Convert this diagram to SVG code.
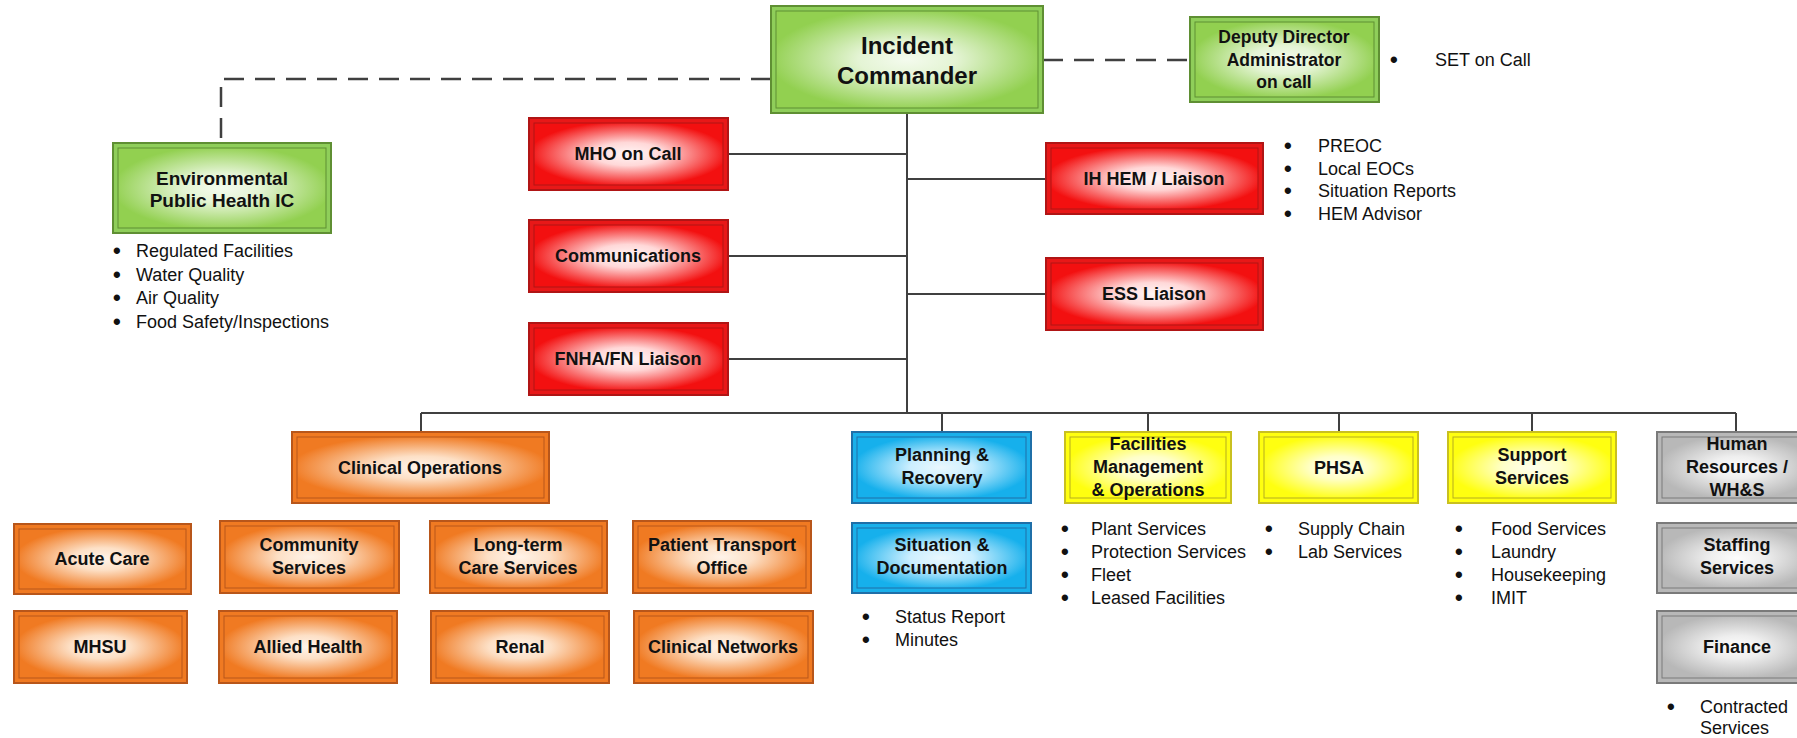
<svg xmlns="http://www.w3.org/2000/svg" width="1797" height="738" viewBox="0 0 1797 738">
<defs>
<radialGradient id="gGreen" cx="0.5" cy="0.5" r="0.62"><stop offset="0" stop-color="#f4fbee"/><stop offset="0.3" stop-color="#e4f4d4"/><stop offset="0.85" stop-color="#92d050"/></radialGradient>
<radialGradient id="gRed" cx="0.5" cy="0.5" r="0.62"><stop offset="0" stop-color="#fff6f6"/><stop offset="0.3" stop-color="#ffd8d8"/><stop offset="0.85" stop-color="#f31010"/></radialGradient>
<radialGradient id="gOrange" cx="0.5" cy="0.5" r="0.62"><stop offset="0" stop-color="#fff4ea"/><stop offset="0.3" stop-color="#fde0c6"/><stop offset="0.85" stop-color="#f07a22"/></radialGradient>
<radialGradient id="gBlue" cx="0.5" cy="0.5" r="0.62"><stop offset="0" stop-color="#eaf8fe"/><stop offset="0.3" stop-color="#ccefff"/><stop offset="0.85" stop-color="#16b0ec"/></radialGradient>
<radialGradient id="gYellow" cx="0.5" cy="0.5" r="0.62"><stop offset="0" stop-color="#ffffee"/><stop offset="0.3" stop-color="#ffffc8"/><stop offset="0.85" stop-color="#ffff10"/></radialGradient>
<radialGradient id="gGray" cx="0.5" cy="0.5" r="0.62"><stop offset="0" stop-color="#fdfdfd"/><stop offset="0.3" stop-color="#eeeeee"/><stop offset="0.85" stop-color="#b8b8b8"/></radialGradient>
</defs>
<style>
.conn{stroke:#404040;stroke-width:2;fill:none}
.dash{stroke:#404040;stroke-width:2.5;fill:none;stroke-dasharray:20 11}
.t{font-family:"Liberation Sans",Arial,sans-serif;font-weight:bold;font-size:18px;fill:#111;text-anchor:middle}
.b{font-family:"Liberation Sans",Arial,sans-serif;font-size:18px;fill:#111}
.d{font-family:"Liberation Sans",Arial,sans-serif;font-size:22px;font-weight:bold;fill:#111}
.go{fill:#8fce5a;stroke:#5f8f33;stroke-width:2}
.gi{fill:url(#gGreen);stroke:#5f8f33;stroke-width:1}
.ro{fill:#e81818;stroke:#b01515;stroke-width:2}
.ri{fill:url(#gRed);stroke:#b01515;stroke-width:1}
.oo{fill:#f07a22;stroke:#b8561a;stroke-width:2}
.oi{fill:url(#gOrange);stroke:#b8561a;stroke-width:1}
.bo{fill:#1ab0ea;stroke:#1f6fa8;stroke-width:2}
.bi{fill:url(#gBlue);stroke:#1f6fa8;stroke-width:1}
.yo{fill:#ffff10;stroke:#c9c020;stroke-width:2}
.yi{fill:url(#gYellow);stroke:#b5ad20;stroke-width:1}
.xo{fill:#b8b8b8;stroke:#7a7a7a;stroke-width:2}
.xi{fill:url(#gGray);stroke:#7a7a7a;stroke-width:1}
</style>
<rect width="1797" height="738" fill="#ffffff"/>
<g id="connectors">
<path class="dash" d="M771 79 H221 V143"/>
<path class="dash" d="M1043 60 H1190"/>
<path class="conn" d="M907 113 V413"/>
<path class="conn" d="M728 154 H907 M728 256 H907 M728 359 H907"/>
<path class="conn" d="M907 179 H1046 M907 294 H1046"/>
<path class="conn" d="M421 413 H1736"/>
<path class="conn" d="M421 413 V432 M942 413 V432 M1148 413 V432 M1339 413 V432 M1532 413 V432 M1736 413 V432"/>
</g>
<g id="incident-commander">
<rect class="go" x="771" y="6" width="272" height="107"/><rect class="gi" x="776" y="11" width="262" height="97"/>
<text class="t" style="font-size:24px" x="907" y="54">Incident</text>
<text class="t" style="font-size:24px" x="907" y="84">Commander</text>
</g>
<g id="deputy-director">
<rect class="go" x="1190" y="17" width="189" height="85"/><rect class="gi" x="1195" y="22" width="179" height="75"/>
<text class="t" style="font-size:17.5px" x="1284" y="43">Deputy Director</text>
<text class="t" style="font-size:17.5px" x="1284" y="66">Administrator</text>
<text class="t" style="font-size:17.5px" x="1284" y="88">on call</text>
</g>
<g id="deputy-notes">
<text class="d" x="1390" y="67">•</text><text class="b" x="1435" y="66">SET on Call</text>
</g>
<g id="environmental-public-health">
<rect class="go" x="113" y="143" width="218" height="90"/><rect class="gi" x="118" y="148" width="208" height="80"/>
<text class="t" style="font-size:19px" x="222" y="185">Environmental</text>
<text class="t" style="font-size:19px" x="222" y="207">Public Health IC</text>
</g>
<g id="env-notes">
<text class="d" x="113" y="258">•</text><text class="b" x="136" y="257">Regulated Facilities</text>
<text class="d" x="113" y="282">•</text><text class="b" x="136" y="281">Water Quality</text>
<text class="d" x="113" y="305">•</text><text class="b" x="136" y="304">Air Quality</text>
<text class="d" x="113" y="329">•</text><text class="b" x="136" y="328">Food Safety/Inspections</text>
</g>
<g id="mho-on-call">
<rect class="ro" x="529" y="118" width="199" height="72"/><rect class="ri" x="534" y="123" width="189" height="62"/>
<text class="t" x="628" y="160">MHO on Call</text>
</g>
<g id="communications">
<rect class="ro" x="529" y="220" width="199" height="72"/><rect class="ri" x="534" y="225" width="189" height="62"/>
<text class="t" x="628" y="262">Communications</text>
</g>
<g id="fnha-liaison">
<rect class="ro" x="529" y="323" width="199" height="72"/><rect class="ri" x="534" y="328" width="189" height="62"/>
<text class="t" x="628" y="365">FNHA/FN Liaison</text>
</g>
<g id="ih-hem-liaison">
<rect class="ro" x="1046" y="143" width="217" height="71"/><rect class="ri" x="1051" y="148" width="207" height="61"/>
<text class="t" x="1154" y="185">IH HEM / Liaison</text>
</g>
<g id="ih-hem-notes">
<text class="d" x="1284" y="153">•</text><text class="b" x="1318" y="152">PREOC</text>
<text class="d" x="1284" y="176">•</text><text class="b" x="1318" y="175">Local EOCs</text>
<text class="d" x="1284" y="198">•</text><text class="b" x="1318" y="197">Situation Reports</text>
<text class="d" x="1284" y="221">•</text><text class="b" x="1318" y="220">HEM Advisor</text>
</g>
<g id="ess-liaison">
<rect class="ro" x="1046" y="258" width="217" height="72"/><rect class="ri" x="1051" y="263" width="207" height="62"/>
<text class="t" x="1154" y="300">ESS Liaison</text>
</g>
<g id="clinical-operations">
<rect class="oo" x="292" y="432" width="257" height="71"/><rect class="oi" x="297" y="437" width="247" height="61"/>
<text class="t" x="420" y="474">Clinical Operations</text>
</g>
<g id="acute-care">
<rect class="oo" x="14" y="524" width="177" height="70"/><rect class="oi" x="19" y="529" width="167" height="60"/>
<text class="t" x="102" y="565">Acute Care</text>
</g>
<g id="community-services">
<rect class="oo" x="220" y="521" width="179" height="72"/><rect class="oi" x="225" y="526" width="169" height="62"/>
<text class="t" x="309" y="551">Community</text>
<text class="t" x="309" y="574">Services</text>
</g>
<g id="long-term-care">
<rect class="oo" x="430" y="521" width="177" height="72"/><rect class="oi" x="435" y="526" width="167" height="62"/>
<text class="t" x="518" y="551">Long-term</text>
<text class="t" x="518" y="574">Care Services</text>
</g>
<g id="patient-transport">
<rect class="oo" x="633" y="521" width="178" height="72"/><rect class="oi" x="638" y="526" width="168" height="62"/>
<text class="t" x="722" y="551">Patient Transport</text>
<text class="t" x="722" y="574">Office</text>
</g>
<g id="mhsu">
<rect class="oo" x="14" y="611" width="173" height="72"/><rect class="oi" x="19" y="616" width="163" height="62"/>
<text class="t" x="100" y="653">MHSU</text>
</g>
<g id="allied-health">
<rect class="oo" x="219" y="611" width="178" height="72"/><rect class="oi" x="224" y="616" width="168" height="62"/>
<text class="t" x="308" y="653">Allied Health</text>
</g>
<g id="renal">
<rect class="oo" x="431" y="611" width="178" height="72"/><rect class="oi" x="436" y="616" width="168" height="62"/>
<text class="t" x="520" y="653">Renal</text>
</g>
<g id="clinical-networks">
<rect class="oo" x="634" y="611" width="179" height="72"/><rect class="oi" x="639" y="616" width="169" height="62"/>
<text class="t" x="723" y="653">Clinical Networks</text>
</g>
<g id="planning-recovery">
<rect class="bo" x="852" y="432" width="179" height="71"/><rect class="bi" x="857" y="437" width="169" height="61"/>
<text class="t" x="942" y="461">Planning &amp;</text>
<text class="t" x="942" y="484">Recovery</text>
</g>
<g id="situation-documentation">
<rect class="bo" x="852" y="523" width="179" height="70"/><rect class="bi" x="857" y="528" width="169" height="60"/>
<text class="t" x="942" y="551">Situation &amp;</text>
<text class="t" x="942" y="574">Documentation</text>
</g>
<g id="situation-notes">
<text class="d" x="862" y="624">•</text><text class="b" x="895" y="623">Status Report</text>
<text class="d" x="862" y="647">•</text><text class="b" x="895" y="646">Minutes</text>
</g>
<g id="facilities-management">
<rect class="yo" x="1065" y="432" width="166" height="71"/><rect class="yi" x="1070" y="437" width="156" height="61"/>
<text class="t" x="1148" y="450">Facilities</text>
<text class="t" x="1148" y="473">Management</text>
<text class="t" x="1148" y="496">&amp; Operations</text>
</g>
<g id="facilities-notes">
<text class="d" x="1061" y="536">•</text><text class="b" x="1091" y="535">Plant Services</text>
<text class="d" x="1061" y="559">•</text><text class="b" x="1091" y="558">Protection Services</text>
<text class="d" x="1061" y="582">•</text><text class="b" x="1091" y="581">Fleet</text>
<text class="d" x="1061" y="605">•</text><text class="b" x="1091" y="604">Leased Facilities</text>
</g>
<g id="phsa">
<rect class="yo" x="1259" y="432" width="159" height="71"/><rect class="yi" x="1264" y="437" width="149" height="61"/>
<text class="t" x="1339" y="474">PHSA</text>
</g>
<g id="phsa-notes">
<text class="d" x="1265" y="536">•</text><text class="b" x="1298" y="535">Supply Chain</text>
<text class="d" x="1265" y="559">•</text><text class="b" x="1298" y="558">Lab Services</text>
</g>
<g id="support-services">
<rect class="yo" x="1448" y="432" width="168" height="71"/><rect class="yi" x="1453" y="437" width="158" height="61"/>
<text class="t" x="1532" y="461">Support</text>
<text class="t" x="1532" y="484">Services</text>
</g>
<g id="support-notes">
<text class="d" x="1455" y="536">•</text><text class="b" x="1491" y="535">Food Services</text>
<text class="d" x="1455" y="559">•</text><text class="b" x="1491" y="558">Laundry</text>
<text class="d" x="1455" y="582">•</text><text class="b" x="1491" y="581">Housekeeping</text>
<text class="d" x="1455" y="605">•</text><text class="b" x="1491" y="604">IMIT</text>
</g>
<g id="human-resources">
<rect class="xo" x="1657" y="432" width="160" height="71"/><rect class="xi" x="1662" y="437" width="150" height="61"/>
<text class="t" x="1737" y="450">Human</text>
<text class="t" x="1737" y="473">Resources /</text>
<text class="t" x="1737" y="496">WH&amp;S</text>
</g>
<g id="staffing-services">
<rect class="xo" x="1657" y="523" width="160" height="70"/><rect class="xi" x="1662" y="528" width="150" height="60"/>
<text class="t" x="1737" y="551">Staffing</text>
<text class="t" x="1737" y="574">Services</text>
</g>
<g id="finance">
<rect class="xo" x="1657" y="611" width="160" height="72"/><rect class="xi" x="1662" y="616" width="150" height="62"/>
<text class="t" x="1737" y="653">Finance</text>
</g>
<g id="finance-notes">
<text class="d" x="1667" y="714">•</text><text class="b" x="1700" y="713">Contracted</text>
<text class="b" x="1700" y="734">Services</text>
</g>
</svg>
